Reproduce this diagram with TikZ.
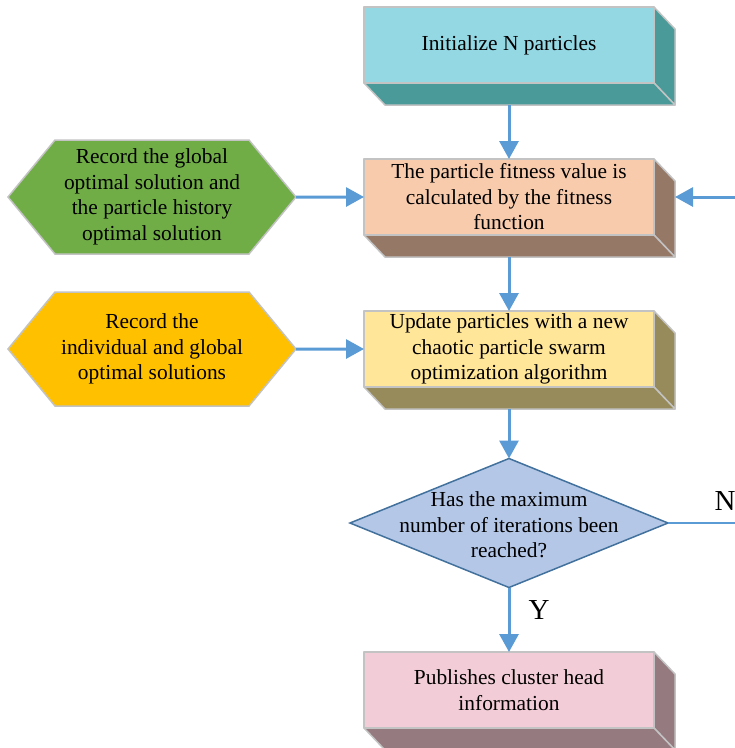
\documentclass[tikz,border=0pt]{standalone}
\usepackage{fontspec}
\setmainfont{Liberation Serif}
\usetikzlibrary{shapes.geometric,shapes.symbols,arrows.meta,calc}

\definecolor{flowblue}{HTML}{5B9BD5}
\definecolor{boxline}{HTML}{C3C3C3}
\definecolor{initfront}{HTML}{94D8E4}
\definecolor{initside}{HTML}{4A9A9A}
\definecolor{fitfront}{HTML}{F8CBAD}
\definecolor{fitside}{HTML}{967867}
\definecolor{updfront}{HTML}{FFE699}
\definecolor{updside}{HTML}{978A5B}
\definecolor{pubfront}{HTML}{F2CCD6}
\definecolor{pubside}{HTML}{957B7F}
\definecolor{recgreen}{HTML}{70AD47}
\definecolor{recyellow}{HTML}{FFC000}
\definecolor{askfill}{HTML}{B4C7E7}
\definecolor{askline}{HTML}{41719C}

\tikzset{
  flowbox/.style={draw=boxline, line width=1.5pt, line join=round, minimum width=290pt, minimum height=76pt, inner sep=0pt, outer sep=0pt, align=center},
  recbox/.style={signal, signal to=west and east, signal pointer angle=101, draw=boxline, line width=1.5pt, minimum width=288pt, minimum height=114pt, inner sep=0pt, outer sep=0pt, align=center},
  flow/.style={draw=flowblue, line width=3pt, -{Triangle[length=18pt,width=19pt]}},
}

% depth faces of a box, and the point under it
\newcommand{\extrude}[2]{%
  \filldraw[fill=#2, draw=boxline, line width=1.5pt, line join=round] (#1.north east) -- ++(21,22) -- ++(0,76) -- (#1.south east) -- cycle;
  \filldraw[fill=#2, draw=boxline, line width=1.5pt, line join=round] (#1.south west) -- ++(21,22) -- ++(290,0) -- (#1.south east) -- cycle;
  \coordinate (#1 base) at ($(#1.south)+(0,22)$);
}

\begin{document}
\begin{tikzpicture}[x=1pt, y=-1pt, font=\fontsize{21.4}{25.5}\selectfont]
\useasboundingbox (0,0) rectangle (735,748);

\node[flowbox, fill=initfront] (init) at (509,45) {Initialize N particles};
\extrude{init}{initside}

\node[flowbox, fill=fitfront] (fit) at (509,197) {The particle fitness value is\\calculated by the fitness\\function};
\extrude{fit}{fitside}

\node[flowbox, fill=updfront] (upd) at (509,349) {Update particles with a new\\chaotic particle swarm\\optimization algorithm};
\extrude{upd}{updside}

\node[diamond, draw=askline, fill=askfill, line width=1.5pt, minimum width=318pt, minimum height=129pt, inner sep=0pt, outer sep=0pt] (ask) at (509,523) {};
\node[align=center] (askText) at (509,525) {Has the maximum\\number of iterations been\\reached?};

\node[flowbox, fill=pubfront] (pub) at (509,690) {Publishes cluster head\\information};
\extrude{pub}{pubside}

\node[recbox, fill=recgreen] (recG) at (152,197) {Record the global\\optimal solution and\\the particle history\\optimal solution};
\node[recbox, fill=recyellow] (recY) at (152,349) {Record the\\individual and global\\optimal solutions};

% connectors
\draw[flow] (init base) -- (fit.north);
\draw[flow] (fit base) -- (upd.north);
\draw[flow] (upd base) -- (ask.north);
\draw[flow] (ask.south) -- (pub.north);
\draw[flow] (recG) -- (fit);
\draw[flow] (recY) -- (upd);

\coordinate (loopOut) at (735,523);
\coordinate (loopIn) at (735,197);
\draw[flowblue, line width=2.5pt] (ask.east) -- (loopOut);
\draw[flow] (loopIn) -- ($(fit.east)+(21,0)$);

\node[font=\fontsize{29}{30}\selectfont] (yes) at (539,610) {Y};
\node[font=\fontsize{29}{30}\selectfont] (no) at (725,501) {N};
\end{tikzpicture}
\end{document}
